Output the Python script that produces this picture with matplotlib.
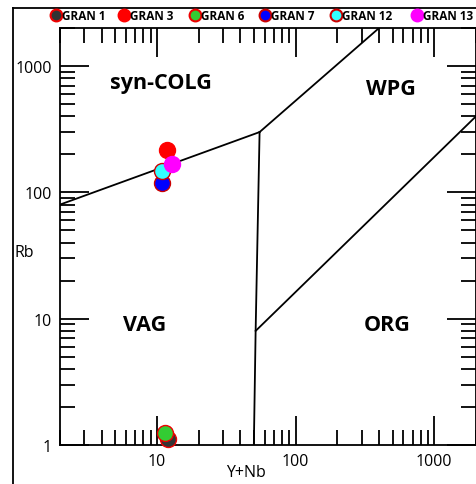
import matplotlib.pyplot as plt
from matplotlib.lines import Line2D

plt.rcParams['font.family'] = ['Open Sans', 'DejaVu Sans']

# samples (Y+Nb, Rb)
names = ['GRAN 1', 'GRAN 3', 'GRAN 6', 'GRAN 7', 'GRAN 12', 'GRAN 13']
ynb = [12.0, 11.8, 11.4, 10.9, 10.9, 12.8]
rb = [1.12, 215, 1.25, 118, 147, 167]
fills = ['#333333', '#ff0000', '#33cc33', '#0000ff', '#33ffff', '#ff00ff']
edges = ['#ee0000', '#ff0000', '#ee0000', '#cc0000', '#cc0000', '#ff00ff']

# Pearce et al. (1984) field boundaries
b1_x = [2, 55];      b1_y = [80, 300]
b2_x = [55, 400];    b2_y = [300, 2000]
b3_x = [55, 51.5, 50]; b3_y = [300, 8, 1]
b4_x = [51.5, 2000]; b4_y = [8, 400]

W, H = 476, 485
fig = plt.figure(figsize=(W / 100, H / 100), dpi=100)
ax = fig.add_axes([60/W, 1 - 446/H, 416/W, 417/H])
ax.set_xscale('log')
ax.set_yscale('log')
ax.set_xlim(2, 2000)
ax.set_ylim(1, 2000)

for bx, by in [(b1_x, b1_y), (b2_x, b2_y), (b3_x, b3_y), (b4_x, b4_y)]:
    ax.plot(bx, by, color='black', lw=1.3)

for i in range(len(names)):
    ax.plot(ynb[i], rb[i], 'o', ms=11.5, mfc=fills[i], mec=edges[i], mew=1.0,
            label=names[i], clip_on=False, zorder=3)

ax.text(10.7, 740, 'syn-COLG', fontsize=15.5, fontweight='bold', ha='center', va='center')
ax.text(490, 660, 'WPG', fontsize=15.5, fontweight='bold', ha='center', va='center')
ax.text(8.2, 9.0, 'VAG', fontsize=15.5, fontweight='bold', ha='center', va='center')
ax.text(460, 9.0, 'ORG', fontsize=15.5, fontweight='bold', ha='center', va='center')

for s in ax.spines.values():
    s.set_linewidth(1.3)
ax.tick_params(which='both', direction='in', top=True, right=True, width=1.3, labelsize=11.5)
ax.tick_params(which='major', length=21, pad=6)
ax.tick_params(which='minor', length=11)
ax.set_xticks([10, 100, 1000])
ax.set_xticklabels(['10', '100', '1000'])
ax.set_yticks([1, 10, 100, 1000])
ax.set_yticklabels(['1', '10', '100', '1000'])
ax.set_xlabel('Y+Nb', fontsize=11.5, fontweight='medium', va='center')
ax.xaxis.set_label_coords((246 - 60) / 416, -(473 - 446) / 417)
ax.set_ylabel('Rb', fontsize=11.5, fontweight='medium', rotation=0, va='center')
ax.yaxis.set_label_coords(-(60 - 24) / 416, (446 - 253) / 417)

# outer frame
fig.add_artist(Line2D([13/W, 13/W], [0, 1 - 9/H], color='black', lw=1.3))
fig.add_artist(Line2D([13/W, 1], [1 - 9/H, 1 - 9/H], color='black', lw=1.3))

# legend row along the top
leg_x = [56, 124, 195, 265, 336, 417]
leg_y = 1 - 16/H
for i in range(len(names)):
    fig.add_artist(Line2D([leg_x[i] / W], [leg_y], ls='', marker='o', ms=8.5,
                          mfc=fills[i], mec=edges[i], mew=1.5))
    fig.text((leg_x[i] + 6) / W, leg_y, names[i], fontsize=8.5, fontweight='bold',
             ha='left', va='center')

fig.savefig('out.png', dpi=100)
